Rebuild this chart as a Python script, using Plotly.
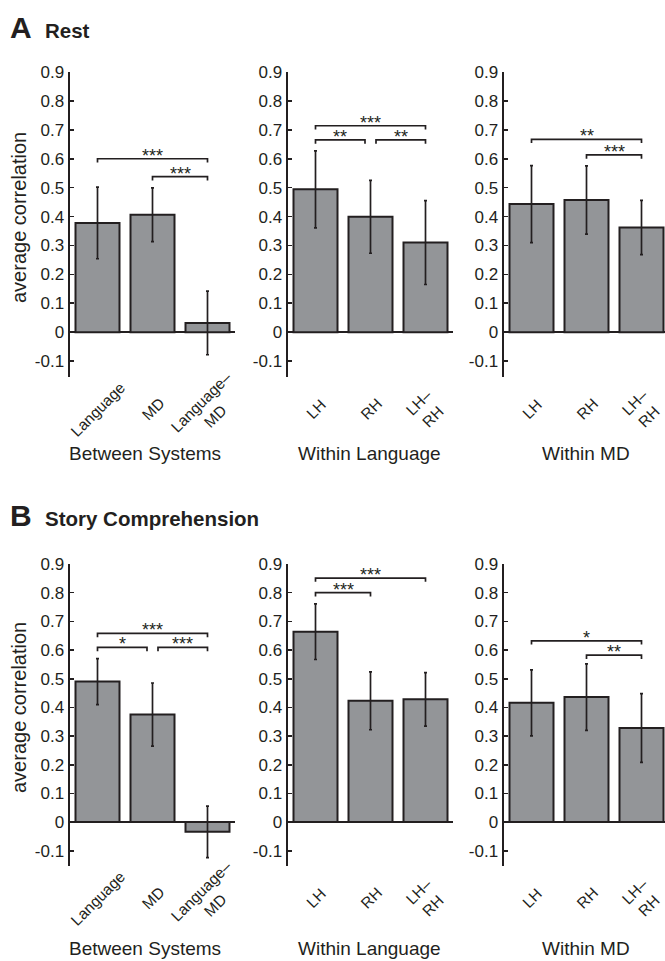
import plotly.graph_objects as go

W, H = 665, 961
FONT = "Liberation Sans, Arial, Helvetica, sans-serif"
DARK = "#231f20"
BARFILL = "#939598"

# ---------------- data ----------------
between_labels = ["Language", "MD", "Language–<br>MD"]
hemi_labels = ["LH", "RH", "LH–<br>RH"]

rest_between = [0.378, 0.406, 0.032]
rest_between_err = [0.124, 0.093, 0.110]
rest_lang = [0.494, 0.399, 0.310]
rest_lang_err = [0.133, 0.126, 0.145]
rest_md = [0.443, 0.457, 0.362]
rest_md_err = [0.133, 0.118, 0.094]

story_between = [0.490, 0.375, -0.034]
story_between_err = [0.080, 0.110, 0.090]
story_lang = [0.664, 0.423, 0.428]
story_lang_err = [0.097, 0.101, 0.093]
story_md = [0.416, 0.436, 0.328]
story_md_err = [0.115, 0.116, 0.120]

# significance brackets: (from index, to index, level, stars)
rest_between_sig = [(0, 2, 0.600, "***"), (1, 2, 0.538, "***")]
rest_lang_sig = [(0, 2, 0.714, "***"), (0, 1, 0.665, "**"), (1, 2, 0.665, "**")]
rest_md_sig = [(0, 2, 0.667, "**"), (1, 2, 0.613, "***")]
story_between_sig = [(0, 2, 0.658, "***"), (0, 1, 0.609, "*"), (1, 2, 0.609, "***")]
story_lang_sig = [(0, 2, 0.851, "***"), (0, 1, 0.800, "***")]
story_md_sig = [(0, 2, 0.632, "*"), (1, 2, 0.582, "**")]

yticks = [-0.1, 0, 0.1, 0.2, 0.3, 0.4, 0.5, 0.6, 0.7, 0.8, 0.9]
ytick_text = ["-0.1", "0", "0.1", "0.2", "0.3", "0.4", "0.5", "0.6", "0.7", "0.8", "0.9"]

group_titles = ["Between Systems", "Within Language", "Within MD"]
# --------------------------------------

panels = [
    (rest_between, rest_between_err, between_labels, rest_between_sig),
    (rest_lang, rest_lang_err, hemi_labels, rest_lang_sig),
    (rest_md, rest_md_err, hemi_labels, rest_md_sig),
    (story_between, story_between_err, between_labels, story_between_sig),
    (story_lang, story_lang_err, hemi_labels, story_lang_sig),
    (story_md, story_md_err, hemi_labels, story_md_sig),
]

def px(xp):
    return xp / W

def py(yp):
    return 1 - yp / H

x_dom_px = [(70, 235), (288, 453), (504, 665)]
x_ranges = [[-0.5, 2.5], [-0.5, 2.5], [-0.5, -0.5 + (665 - 504) / 55.0]]
y_dom_px = [(72, 377), (564, 866)]
y_ranges = [[-0.155, 0.9], [-0.153, 0.9]]
xlabel_y = [409, 898]
title_y = [453, 948]
ylabel_y = [218, 708]

fig = go.Figure()
layout = dict(
    width=W, height=H,
    margin=dict(l=0, r=0, t=0, b=0, autoexpand=False),
    paper_bgcolor="white", plot_bgcolor="white",
    showlegend=False,
    font=dict(family=FONT, color=DARK),
)
annotations = []

for k, (vals, errs, labels, sigs) in enumerate(panels):
    row, col = divmod(k, 3)
    n = k + 1
    xa = "x" if n == 1 else f"x{n}"
    ya = "y" if n == 1 else f"y{n}"
    xkey = "xaxis" if n == 1 else f"xaxis{n}"
    ykey = "yaxis" if n == 1 else f"yaxis{n}"
    xs = list(range(len(vals)))
    fig.add_trace(go.Bar(
        x=xs, y=vals, width=0.8,
        marker=dict(color=BARFILL, line=dict(color=DARK, width=2)),
        error_y=dict(type="data", array=errs, visible=True, color=DARK,
                     thickness=1.7, width=1.5),
        xaxis=xa, yaxis=ya, hoverinfo="skip",
    ))
    # brackets
    for (i, j, lvl, stars) in sigs:
        x0, x1 = float(i), float(j)
        for (i2, j2, l2, _) in sigs:
            if (i2, j2) == (i, j) or abs(l2 - lvl) > 1e-9:
                continue
            if j2 == i:
                x0 += 0.1
            if i2 == j:
                x1 -= 0.1
        d = 0.013
        fig.add_trace(go.Scatter(
            x=[x0, x0, x1, x1], y=[lvl - d, lvl, lvl, lvl - d],
            mode="lines", line=dict(color=DARK, width=1.7),
            xaxis=xa, yaxis=ya, hoverinfo="skip", cliponaxis=False,
        ))
        annotations.append(dict(
            x=(x0 + x1) / 2, y=lvl, xref=xa, yref=ya, text=stars,
            showarrow=False, yanchor="bottom", yshift=-9,
            font=dict(size=18, family=FONT, color=DARK),
        ))
    # rotated category labels, centred on their bars
    for xi, lab in zip(xs, labels):
        annotations.append(dict(
            x=xi, y=py(xlabel_y[row]), xref=xa, yref="paper", text=lab,
            showarrow=False, textangle=-45, xanchor="center", yanchor="middle",
            align="center", font=dict(size=15.5, family=FONT, color=DARK),
        ))
    layout[xkey] = dict(
        domain=[px(x_dom_px[col][0]), px(x_dom_px[col][1])],
        range=x_ranges[col], anchor=ya, automargin=False,
        showticklabels=False, ticks="", showline=False, showgrid=False,
        zeroline=False, fixedrange=True,
    )
    layout[ykey] = dict(
        domain=[py(y_dom_px[row][1]), py(y_dom_px[row][0])],
        range=y_ranges[row], anchor=xa, automargin=False,
        tickmode="array", tickvals=yticks, ticktext=ytick_text,
        ticks="inside", ticklen=4, tickwidth=1.6, tickcolor=DARK,
        showline=True, linewidth=2.5, linecolor=DARK,
        showgrid=False, zeroline=True, zerolinecolor=DARK, zerolinewidth=1.7,
        tickfont=dict(size=17, family=FONT, color=DARK),
        fixedrange=True,
    )

# group titles and y titles
title_cx = [145, 369, 586]
for row in range(2):
    for col, t in enumerate(group_titles):
        annotations.append(dict(
            x=px(title_cx[col]), y=py(title_y[row]), xref="paper", yref="paper",
            text=t, showarrow=False, xanchor="center", yanchor="middle",
            font=dict(size=19, family=FONT, color=DARK),
        ))
    annotations.append(dict(
        x=px(19), y=py(ylabel_y[row]), xref="paper", yref="paper",
        text="average correlation", showarrow=False, textangle=-90,
        xanchor="center", yanchor="middle",
        font=dict(size=20, family=FONT, color=DARK),
    ))

# panel labels
for letter, title, yc in [("A", "Rest", 27), ("B", "Story Comprehension", 515)]:
    annotations.append(dict(
        x=px(8), y=py(yc), xref="paper", yref="paper",
        text=f"<b>{letter}</b>", showarrow=False, xanchor="left", yanchor="middle",
        font=dict(size=30, family=FONT, color=DARK),
    ))
    annotations.append(dict(
        x=px(43), y=py(yc + 3), xref="paper", yref="paper",
        text=f"<b>{title}</b>", showarrow=False, xanchor="left", yanchor="middle",
        font=dict(size=20.5, family=FONT, color=DARK),
    ))

layout["annotations"] = annotations
fig.update_layout(**layout)
fig.write_html(
    "out.html",
    config={"displayModeBar": False, "staticPlot": True},
    post_script="document.body.style.margin='0';document.body.style.overflow='hidden';",
)
